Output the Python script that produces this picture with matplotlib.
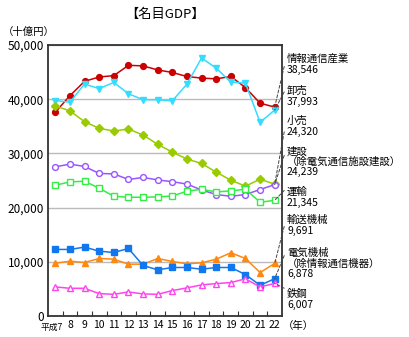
import numpy as np
import matplotlib
matplotlib.use("Agg")
import matplotlib.pyplot as plt

plt.rcParams['font.family'] = ['Noto Sans CJK JP', 'DejaVu Sans']

years = list(range(7, 23))
year_labels = [""] + [str(y) for y in years[1:]]

info_comm = [37600, 40650, 43300, 44100, 44350, 46250, 46150, 45400, 44930,
             44190, 43890, 43760, 44190, 42150, 39260, 38546]
wholesale = [39750, 39450, 42800, 41950, 43100, 41000, 39900, 39900, 39690,
             42780, 47600, 45740, 43150, 42970, 35740, 37993]
retail = [38760, 37840, 35850, 34630, 34130, 34500, 33390, 31670, 30240,
          28950, 28150, 26540, 25060, 23950, 25240, 24320]
construction = [27520, 28020, 27590, 26300, 26220, 25190, 25560, 25110, 24780,
                24340, 23250, 22410, 22090, 22410, 23330, 24239]
transport = [24130, 24740, 24870, 23580, 22090, 21910, 21910, 21970, 22150,
             23020, 23390, 22890, 23080, 23390, 20980, 21345]
transport_mach = [9740, 10110, 9870, 10610, 10480, 9560, 9560, 10610, 10060,
                  9630, 9810, 10480, 11670, 10610, 8020, 9691]
electric_mach = [12280, 12280, 12710, 11960, 11720, 12460, 9320, 8520, 8950,
                 8950, 8630, 8950, 8950, 7650, 5670, 6878]
steel = [5370, 5110, 5110, 4130, 4000, 4440, 4070, 4000, 4690,
         5190, 5740, 5980, 6170, 6850, 5370, 6007]

series = [
    # values, color, marker, filled, label, label top (px from top)
    (info_comm, "#CC0000", "o", True, "情報通信産業\n38,546", 54),
    (wholesale, "#33DDFF", "v", True, "卸売\n37,993", 86),
    (retail, "#99CC00", "D", True, "小売\n24,320", 116),
    (construction, "#9955FF", "o", False, "建設\n（除電気通信施設建設）\n24,239", 146),
    (transport, "#33EE44", "s", False, "運輸\n21,345", 187),
    (transport_mach, "#FF8811", "^", True, "輸送機械\n9,691", 215),
    (electric_mach, "#1177EE", "s", True, "電気機械\n（除情報通信機器）\n6,878", 248),
    (steel, "#FF44EE", "^", False, "鉄鋼\n6,007", 289),
]

W, H = 410, 337
fig = plt.figure(figsize=(W / 100, H / 100), dpi=100)
ax = fig.add_axes([48 / W, (H - 316) / H, (282 - 48) / W, (316 - 45) / H])

for vals, col, mk, filled, lab, ytop in series:
    ax.plot(years, vals, color=col, lw=1.1, marker=mk, ms=4.2 if mk != "D" else 3.8,
            mfc=col if filled else "white", mec=col, mew=1.0)

for vals, col, mk, filled, lab, ytop in series:
    ax.annotate(lab, xy=(years[-1], vals[-1]), xycoords="data",
                xytext=(287, H - ytop), textcoords="figure pixels",
                ha="left", va="top", fontsize=7.5, linespacing=1.05,
                arrowprops=dict(arrowstyle="-", linestyle=(0, (3, 2)), color="#444444",
                                lw=0.7, shrinkA=0, shrinkB=0, relpos=(0, 0.97)))

ax.set_xlim(6.5, 22.5)
ax.set_ylim(0, 50000)
ax.set_yticks(np.arange(0, 50001, 10000))
ax.set_yticklabels([f"{v:,}" for v in range(0, 50001, 10000)], fontsize=8.5)
ax.set_xticks(years)
ax.set_xticklabels(year_labels, fontsize=7.5)
ax.set_xticks(np.arange(7.5, 22, 1), minor=True)
ax.tick_params(axis="y", length=0, pad=3)
ax.tick_params(axis="x", which="major", length=0, pad=3)
ax.tick_params(axis="x", which="minor", direction="in", length=3.6, width=0.8, color="#333333")
ax.grid(axis="y", color="#BBBBBB", lw=1.0)
ax.set_axisbelow(True)
for s in ax.spines.values():
    s.set_color("#333333")
    s.set_linewidth(1.3)

# first year label is squeezed against "8" in the reference
fig.text(63 / W, 1 - 327.5 / H, "平成7", ha="right", va="center", fontsize=6.3)
fig.text(165 / W, 1 - 14 / H, "【名目GDP】", ha="center", va="center", fontsize=9.5)
fig.text(3 / W, 1 - 32 / H, "（十億円）", ha="left", va="center", fontsize=7.5)
fig.text(283 / W, 1 - 326 / H, "（年）", ha="left", va="center", fontsize=7.5)

fig.savefig("out.png", dpi=100)
